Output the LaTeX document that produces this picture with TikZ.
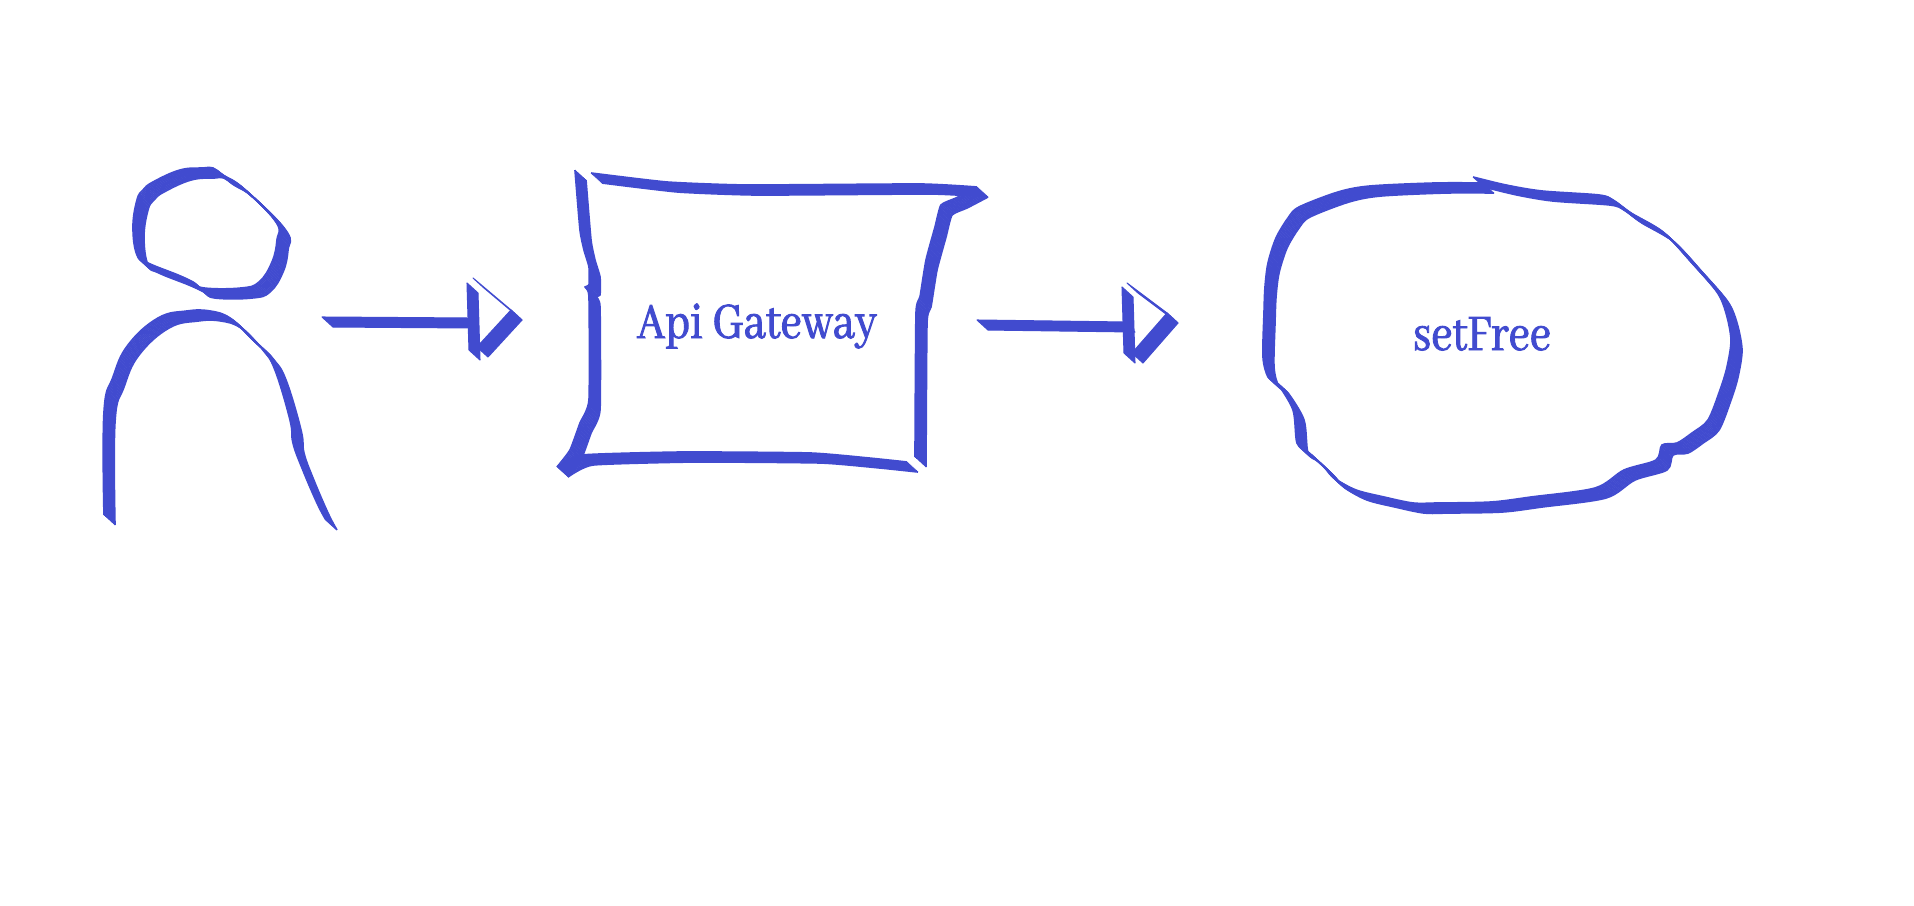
\documentclass[tikz,border=0pt]{standalone}
\usepackage{fontspec}
\usepackage{tikz}
\usetikzlibrary{calc}
\setmainfont{Abhaya Libre}[FakeStretch=0.83,FakeBold=1.6]
\definecolor{penBlue}{RGB}{65,75,207}
\newcommand{\nibstroke}[1]{\foreach \t in {0,...,11}{\draw[nib,shift={(\t,\t*0.91)}] #1;}}
\newcommand{\nibline}[2]{\draw[nibfill] (#1) -- (#2) -- ($(#2)+(11,10)$) -- ($(#1)+(11,10)$) -- cycle;}

\begin{document}
\begin{tikzpicture}[x=0.02cm,y=-0.02cm,line width=.8pt]
\tikzstyle{nib}=[draw=penBlue,line width=.95pt,line join=round]
\tikzstyle{nibfill}=[draw=penBlue,fill=penBlue,line width=.6pt,line join=round]
\tikzstyle{label}=[text=penBlue,anchor=base,font=\fontsize{32}{32}\selectfont]
\useasboundingbox (0,0) rectangle (1914,906);

\draw (757,338) node[label] (gwlabel) {Api Gateway};
\draw (1482,350) node[label] (freelabel) {setFree};

\coordinate (userout) at (322,317);
\coordinate (gwin) at (467,318);
\coordinate (userbasetop) at (467,283);
\coordinate (userbasebot) at (469,350);
\coordinate (usertiptop) at (473,278);
\coordinate (usertip) at (511,310);
\coordinate (usertipbot) at (477,347);
\coordinate (gwout) at (977,320);
\coordinate (freein) at (1124,322);
\coordinate (gwbasetop) at (1122,287);
\coordinate (gwbasebot) at (1124,353);
\coordinate (gwtiptop) at (1127,283);
\coordinate (gwtip) at (1167,313);
\coordinate (gwtipbot) at (1132,353);

% person
\nibstroke{plot[smooth cycle,tension=.7] coordinates {(213,168) (203,168) (180,170) (153,182) (143,190) (137,200) (133,227) (137,255) (148,263) (178,275) (193,282) (204,288) (241,288) (259,282) (272,262) (277,240) (276,222) (243,188) (223,175)}}
\nibstroke{plot[smooth,tension=.7] coordinates {(104,515) (104,412) (113,377) (128,345) (158,318) (187,311) (210,311) (230,318) (250,337) (263,350) (275,370) (290,420) (293,443) (302,468) (317,503) (326,520)}}

% gateway box
\nibstroke{plot[smooth,tension=.3] coordinates {(575,170) (580,230) (584,250) (589,267) (589,285) (585,287) (589,297) (589,400) (580,423) (570,450) (557,467)}}
\nibstroke{plot[smooth,tension=.3] coordinates {(557,467) (582,455) (683,452) (810,453) (869,458) (907,462)}}
\nibstroke{plot[smooth,tension=.3] coordinates {(591,173) (667,182) (747,185) (920,184) (977,187)}}
\nibstroke{plot[smooth,tension=.3] coordinates {(977,187) (956,198) (941,205) (935,227) (926,260) (920,297) (916,313) (915,457)}}

% setFree blob
\nibstroke{plot[smooth,tension=.5] coordinates {(1473,177) (1506,185) (1542,191) (1599,195) (1613,200) (1631,213) (1663,232) (1692,263) (1717,292) (1726,313) (1731,340) (1727,367) (1720,390) (1708,420) (1692,433) (1677,443) (1662,445) (1656,460) (1624,470) (1595,488) (1531,497) (1491,502) (1438,503) (1413,503) (1384,497) (1356,490) (1334,478) (1324,467) (1308,452) (1297,443) (1293,410) (1277,383) (1268,377) (1263,357) (1264,313) (1265,287) (1268,263) (1276,238) (1288,218) (1299,207) (1338,192) (1370,186) (1435,183) (1483,183)}}

% arrows
\nibline{userout}{gwin}
\nibline{userbasetop}{userbasebot}
\nibline{usertiptop}{usertip}
\nibline{usertip}{usertipbot}
\nibline{gwout}{freein}
\nibline{gwbasetop}{gwbasebot}
\nibline{gwtiptop}{gwtip}
\nibline{gwtip}{gwtipbot}

\end{tikzpicture}
\end{document}
